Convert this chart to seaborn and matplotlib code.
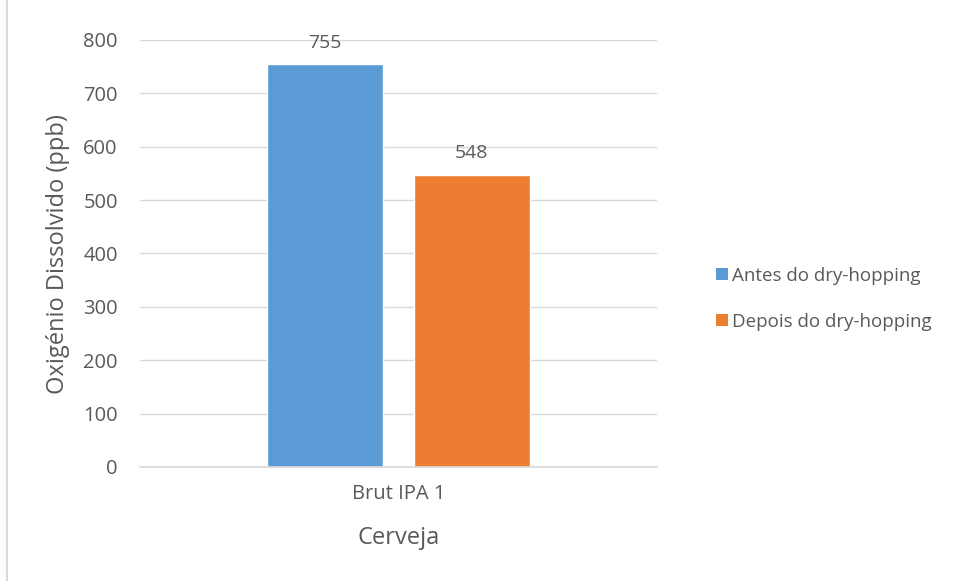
import matplotlib
matplotlib.use("Agg")
import matplotlib.pyplot as plt
import seaborn as sns
import pandas as pd
from matplotlib.lines import Line2D
from matplotlib.patches import Patch

categories = ["Brut IPA 1"]
series = ["Antes do dry-hopping", "Depois do dry-hopping"]
values_antes = [755]
values_depois = [548]
colors = ["#5B9BD5", "#ED7D31"]

df = pd.DataFrame({
    "Cerveja": categories * 2,
    "Serie": [series[0]] * len(categories) + [series[1]] * len(categories),
    "Valor": values_antes + values_depois,
})

sns.set_theme(style="white")
plt.rcParams['font.family'] = ['Open Sans', 'DejaVu Sans']
txt = "#595959"

fig = plt.figure(figsize=(9.56, 5.81), dpi=100)
ax = fig.add_axes([140/956, 114/581, 517/956, 427/581])
sns.barplot(data=df, x="Cerveja", y="Valor", hue="Serie", palette=colors,
            width=0.568, gap=0.21, ax=ax, legend=False, saturation=1)

ax.set_xlim(-0.5, 0.5)
ax.set_ylim(0, 800)
ax.set_yticks(range(0, 801, 100))
ax.yaxis.grid(True, color="#D9D9D9", linewidth=1)
ax.set_axisbelow(True)
for s in ["top", "right", "left"]:
    ax.spines[s].set_visible(False)
ax.spines["bottom"].set_color("#D9D9D9")
ax.spines["bottom"].set_linewidth(1.2)
ax.tick_params(axis="both", length=0, labelsize=14.5, colors=txt)
ax.tick_params(axis="y", pad=16)
ax.tick_params(axis="x", pad=12)
ax.set_xlabel("Cerveja", fontsize=17, color=txt)
ax.set_ylabel("Oxigénio Dissolvido (ppb)", fontsize=17, color=txt)
ax.xaxis.set_label_coords(0.5, -(538 - 467) / 427, transform=ax.transAxes)
ax.yaxis.set_label_coords(-(140 - 58) / 517, 0.499, transform=ax.transAxes)
ax.xaxis.label.set_va("center")
ax.yaxis.label.set_va("center")

for cont in ax.containers:
    ax.bar_label(cont, fmt="%d", padding=9, fontsize=14, color=txt)

handles = [Patch(facecolor=c, edgecolor="none") for c in colors]
fig.legend(handles, series, loc="center left", bbox_to_anchor=(0.731, 0.486),
           frameon=False, fontsize=13.5, labelcolor=txt, handlelength=0.65,
           handleheight=0.65, handletextpad=0.2, labelspacing=1.5)

fig.add_artist(Line2D([7/956, 7/956], [0, 1], transform=fig.transFigure,
                      color="#D9D9D9", linewidth=1.5))

fig.savefig("out.png", dpi=100)
